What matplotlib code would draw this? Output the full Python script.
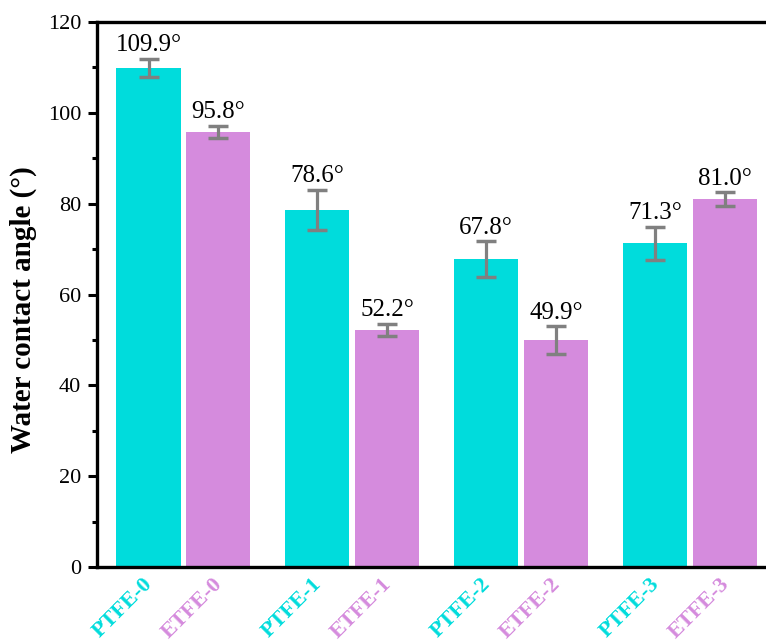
import matplotlib.pyplot as plt
import matplotlib.transforms as mtransforms
import numpy as np

groups = ["0", "1", "2", "3"]
ptfe_vals = [109.9, 78.6, 67.8, 71.3]
etfe_vals = [95.8, 52.2, 49.9, 81.0]
ptfe_err = [2.0, 4.4, 3.9, 3.6]
etfe_err = [1.3, 1.3, 3.1, 1.5]
tick_labels = ["PTFE-0", "ETFE-0", "PTFE-1", "ETFE-1",
               "PTFE-2", "ETFE-2", "PTFE-3", "ETFE-3"]

CYAN = "#00DCDC"
PURPLE = "#D58BDD"
GRAY = "#808080"

plt.rcParams["font.family"] = ["Liberation Serif", "DejaVu Serif"]
plt.rcParams["mathtext.fontset"] = "stix"

fig = plt.figure(figsize=(7.66, 6.4), dpi=100)
ax = fig.add_axes([97 / 766, 1 - 567 / 640, 1 - 97 / 766, (567 - 22) / 640])

x = np.arange(len(groups))
w = 0.38
off = 0.207
err_kw = dict(ecolor=GRAY, elinewidth=2.3, capsize=7.5, capthick=2.5)
ax.bar(x - off, ptfe_vals, w, color=CYAN, yerr=ptfe_err, error_kw=err_kw, zorder=2)
ax.bar(x + off, etfe_vals, w, color=PURPLE, yerr=etfe_err, error_kw=err_kw, zorder=2)

for xi, v, e in zip(x - off, ptfe_vals, ptfe_err):
    ax.text(xi, v + e + 0.6, f"{v:.1f}°", ha="center", va="bottom", fontsize=18)
for xi, v, e in zip(x + off, etfe_vals, etfe_err):
    ax.text(xi, v + e + 0.6, f"{v:.1f}°", ha="center", va="bottom", fontsize=18)

# rotated category labels, drawn as texts so they can be nudged freely
pos = np.ravel(np.column_stack([x - off, x + off]))
ax.set_xticks(pos)
ax.set_xticklabels([])
ax.tick_params(axis="x", length=0)
label_tr = ax.get_xaxis_transform() + mtransforms.ScaledTranslation(
    -6 / 100, -7 / 100, fig.dpi_scale_trans)
for p, lbl, c in zip(pos, tick_labels, [CYAN, PURPLE] * 4):
    ax.text(p, 0, lbl, transform=label_tr, rotation=45, ha="right", va="top",
            rotation_mode="anchor", fontsize=16, fontweight="bold", color=c,
            clip_on=False)

ax.set_xlim(-0.512, 3.45)
ax.set_ylim(0, 120)
ax.set_yticks(np.arange(0, 121, 20))
ax.set_yticks(np.arange(10, 120, 20), minor=True)
ax.tick_params(axis="y", which="major", direction="out", length=6.5, width=2.2,
               labelsize=16, pad=5)
ax.tick_params(axis="y", which="minor", direction="out", length=3.5, width=2.2)
ax.set_ylabel("Water contact angle (°)", fontsize=21, fontweight="bold")
ax.yaxis.set_label_coords(-0.09, 0.472)

for side in ["left", "top", "bottom"]:
    ax.spines[side].set_linewidth(2.4)
ax.spines["right"].set_visible(False)

fig.savefig("out.png", dpi=100)
